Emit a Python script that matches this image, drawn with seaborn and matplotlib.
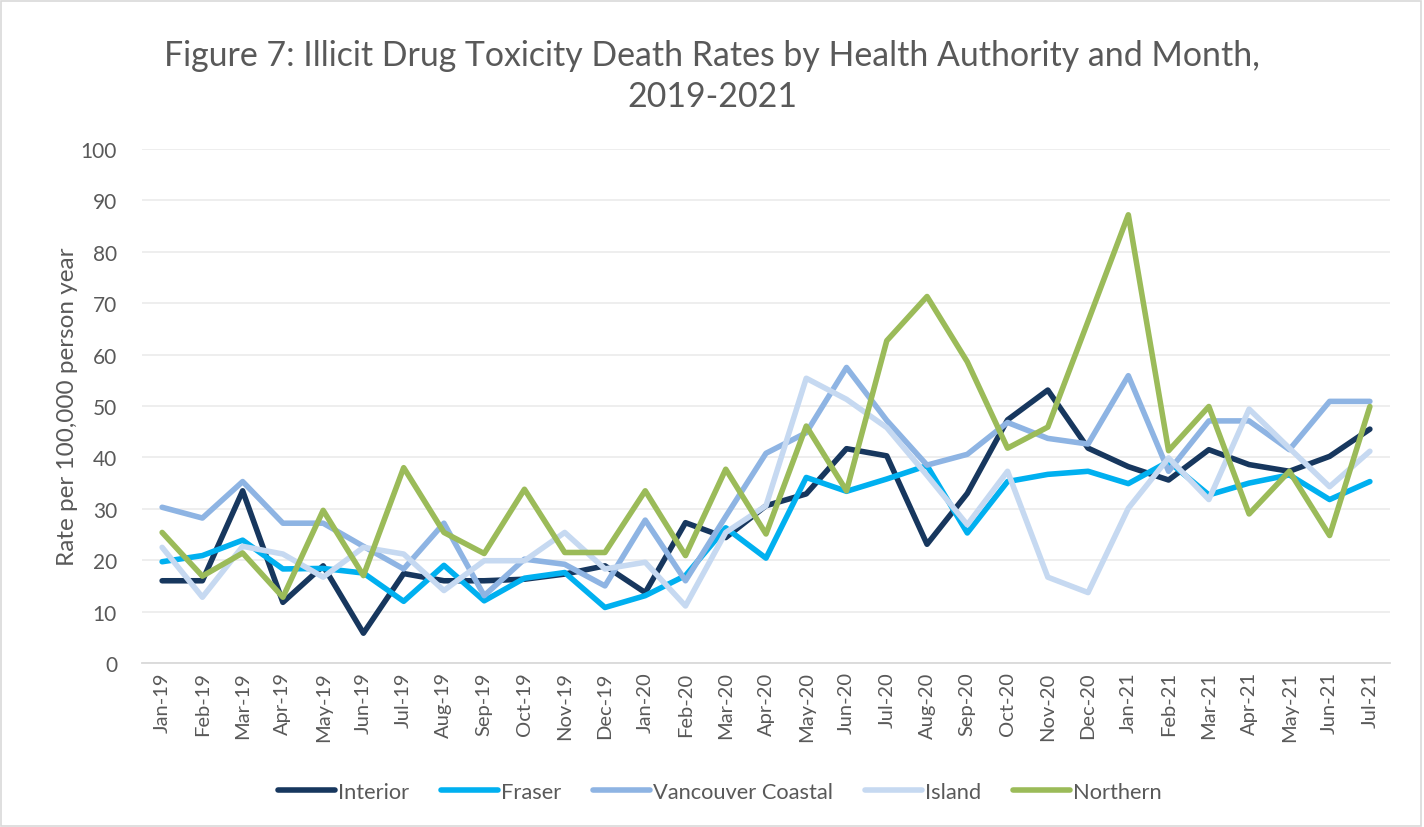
import matplotlib
matplotlib.use("Agg")
import matplotlib.pyplot as plt
import matplotlib.patches as mpatches
import seaborn as sns
import pandas as pd
import numpy as np

months = ["Jan-19", "Feb-19", "Mar-19", "Apr-19", "May-19", "Jun-19", "Jul-19", "Aug-19",
          "Sep-19", "Oct-19", "Nov-19", "Dec-19", "Jan-20", "Feb-20", "Mar-20", "Apr-20",
          "May-20", "Jun-20", "Jul-20", "Aug-20", "Sep-20", "Oct-20", "Nov-20", "Dec-20",
          "Jan-21", "Feb-21", "Mar-21", "Apr-21", "May-21", "Jun-21", "Jul-21"]

interior = [16, 16, 33.5, 11.8, 18.9, 5.8, 17.4, 16, 16, 16.3, 17.3, 18.9, 13.7, 27.3, 24.4, 30.6,
            32.9, 41.7, 40.3, 23.1, 33, 47.3, 53.1, 41.8, 38.2, 35.6, 41.5, 38.6, 37.3, 40.2, 45.5]
fraser = [19.7, 20.9, 23.9, 18.3, 18.4, 17.5, 12, 19, 12.1, 16.5, 17.6, 10.8, 13.1, 17, 26.3, 20.4,
          36.1, 33.4, 35.8, 38.4, 25.3, 35.3, 36.7, 37.3, 34.9, 39.2, 32.7, 35, 36.6, 31.8, 35.3]
vancouver_coastal = [30.3, 28.2, 35.3, 27.2, 27.2, 22.7, 18.3, 27.2, 13.1, 20.2, 19.2, 15, 27.8, 16,
                     28.5, 40.8, 44.8, 57.5, 47.2, 38.5, 40.6, 46.8, 43.7, 42.6, 55.9, 37.3, 47.1,
                     47.1, 41.5, 50.9, 50.9]
island = [22.5, 12.8, 22.7, 21.2, 16.7, 22.5, 21.2, 14.1, 19.9, 19.9, 25.4, 18.3, 19.6, 11.1, 25.4,
          30.6, 55.4, 51.3, 45.8, 36.5, 26.9, 37.3, 16.7, 13.7, 30.1, 39.9, 31.8, 49.4, 41.8, 34.3, 41.2]
northern = [25.4, 16.9, 21.4, 12.8, 29.7, 17, 38, 25.4, 21.3, 33.8, 21.5, 21.5, 33.5, 20.9, 37.7,
            25.1, 46.1, 33.5, 62.7, 71.3, 58.6, 41.8, 45.9, 66.5, 87.2, 41.3, 49.9, 29, 37.3, 24.8, 49.9]

series_names = ["Interior", "Fraser", "Vancouver Coastal", "Island", "Northern"]
series_values = [interior, fraser, vancouver_coastal, island, northern]
colors = ["#17375E", "#00B0F0", "#8EB4E3", "#C6D9F1", "#9BBB59"]
y_ticks = list(range(0, 101, 10))

rows = []
for name, vals in zip(series_names, series_values):
    for i, v in enumerate(vals):
        rows.append({"idx": i, "Month": months[i], "Authority": name, "Rate": v})
df = pd.DataFrame(rows)

sns.set_theme(style="white")
plt.rcParams["font.family"] = ["Lato", "DejaVu Sans"]

fig = plt.figure(figsize=(14.24, 8.28), dpi=100)
ax = fig.add_axes([142 / 1424, 1 - 664 / 828, (1390 - 142) / 1424, (664 - 150) / 828])

sns.lineplot(data=df, x="idx", y="Rate", hue="Authority", hue_order=series_names,
             palette=dict(zip(series_names, colors)), linewidth=4.0, ax=ax,
             legend=True, sort=False)
for ln in ax.get_lines():
    ln.set_linewidth(4.0)
    ln.set_solid_joinstyle("round")
    ln.set_solid_capstyle("round")

ax.set_xlim(-0.5, len(months) - 0.5)
ax.set_ylim(0, 100)
ax.set_yticks(y_ticks)
ax.set_yticklabels([str(t) for t in y_ticks], fontsize=15, color="#595959")
ax.set_xticks(range(len(months)))
ax.set_xticklabels(months, rotation=90, fontsize=14.5, color="#595959")
ax.set_xticks(np.arange(-0.5, len(months), 1.0), minor=True)
ax.tick_params(axis="x", which="major", length=0, pad=6)
ax.tick_params(axis="x", which="minor", length=8, color="#D9D9D9", width=1.2)
ax.tick_params(axis="y", length=0, pad=18)
ax.yaxis.grid(True, color="#EDEDED", linewidth=1.3)
ax.set_axisbelow(True)
for s in ["top", "right", "left"]:
    ax.spines[s].set_visible(False)
ax.spines["bottom"].set_color("#D9D9D9")
ax.spines["bottom"].set_linewidth(1.3)

ax.set_xlabel("")
ax.set_ylabel("Rate per 100,000 person year", fontsize=17.5, color="#595959", labelpad=2)

fig.text(0.5, 1 - 56 / 828, "Figure 7: Illicit Drug Toxicity Death Rates by Health Authority and Month,",
         ha="center", va="center", fontsize=24.4, color="#595959")
fig.text(0.5, 1 - 97 / 828, "2019-2021", ha="center", va="center", fontsize=24.4, color="#595959")

handles, labels = ax.get_legend_handles_labels()
ax.legend_.remove()
for h in handles:
    h.set_linewidth(4.0)
fig.legend(handles, labels, loc="center", bbox_to_anchor=(0.5055, 1 - 793 / 828), ncol=5,
           frameon=False, fontsize=15.75, handlelength=2.6, columnspacing=1.45, handletextpad=0.15,
           labelcolor="#595959")

fig.patches.append(mpatches.Rectangle((0.001, 0.001), 0.997, 0.997, transform=fig.transFigure,
                                      fill=False, edgecolor="#D9D9D9", linewidth=1.2))

fig.savefig("out.png", dpi=100, facecolor="white")
